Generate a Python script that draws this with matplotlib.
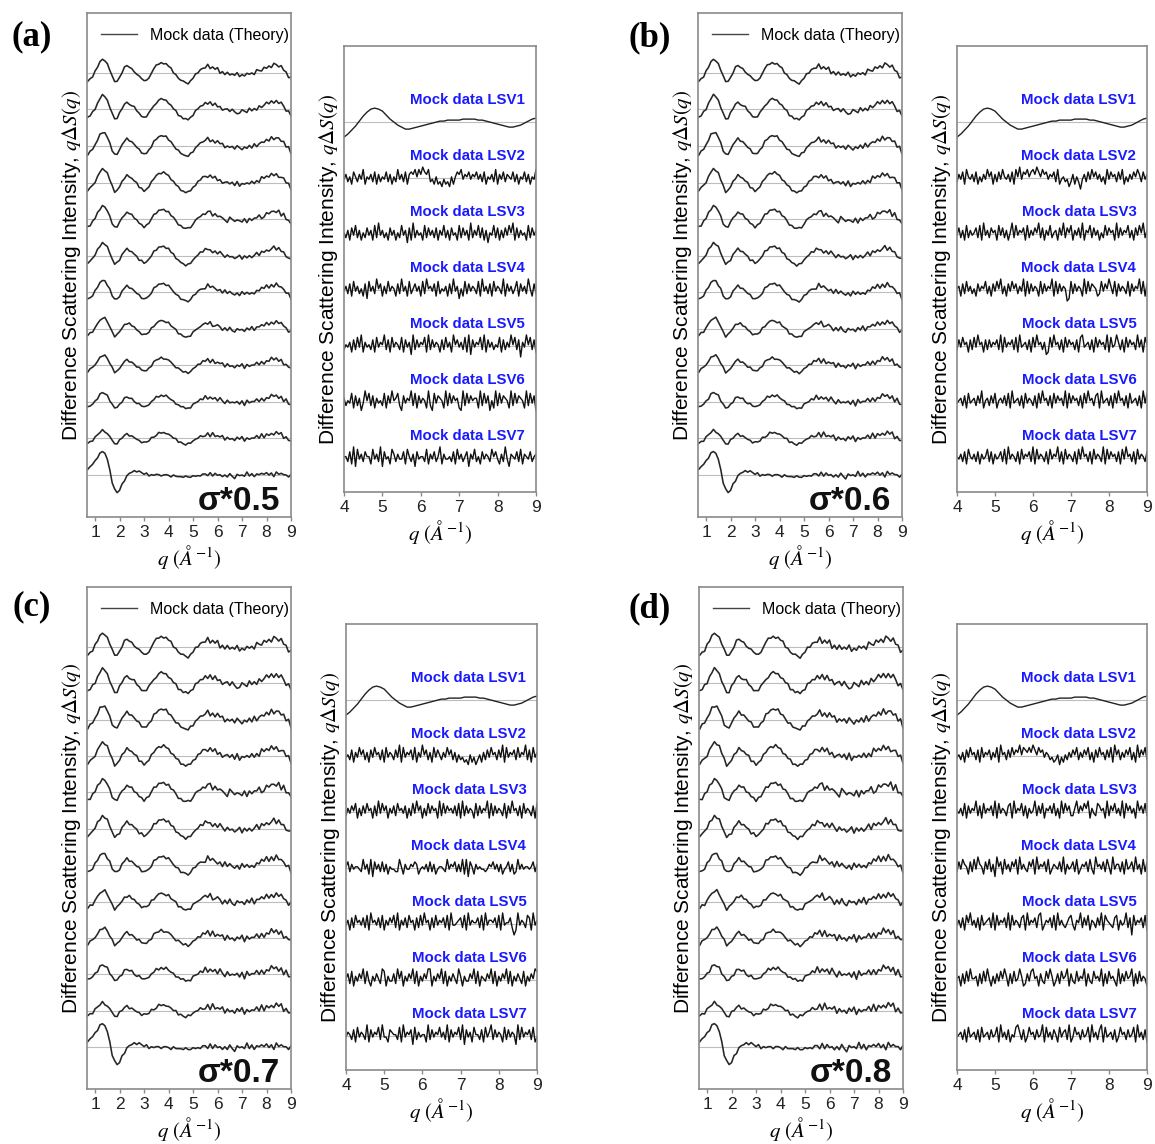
import numpy as np
import matplotlib.pyplot as plt
from matplotlib.lines import Line2D

plt.rcParams['font.family'] = ['Liberation Sans', 'DejaVu Sans']
plt.rcParams['mathtext.fontset'] = 'stix'

panel_tags = ['(a)', '(b)', '(c)', '(d)']
sigma_factor = [0.5, 0.6, 0.7, 0.8]
sigma_labels = ['σ*0.5', 'σ*0.6', 'σ*0.7', 'σ*0.8']
lsv_names = ['Mock data LSV%d' % (i + 1) for i in range(7)]

# ---- left stacks: q grid (0.1 steps) and the theory curve, values in px of the picture
q_left = np.round(np.arange(0.7, 9.05, 0.1), 1)
theory_upper = [-8, -6, -3, 1,
                6, 11, 14, 13, 9, 3, -4, -9, -8, -4,
                1, 5, 7, 6, 4, 2, -1, -4, -6, -8,
                -7, -4, 0, 4, 7, 9, 10, 10, 9, 7,
                4, 1, -2, -5, -7, -9, -10, -10, -8, -5,
                -2, 1, 3, 5, 6, 7, 6, 5, 4, 3,
                2, 1, 0, -1, -1, -2, -2, -2, -2, -2,
                -2, -2, -1, -1, 0, 1, 2, 3, 4, 5,
                6, 7, 8, 8, 7, 5, 3, 0, -3, -6]
theory_bottom = [6, 8, 11, 14,
                 18, 21, 23, 22, 16, 5, -7, -15, -18, -15,
                 -10, -5, -1, 2, 3, 4, 4, 3, 2, 1,
                 1, 0, 0, 0, 1, 0, 0, -1, 0, 0,
                 -1, -1, -1, -2, -2, -2, -2, -1, -2, -1,
                 -1, -1, 0, 0, 0, 1, 0, 0, 0, 0,
                 0, 0, -1, -1, -1, -1, -2, -1, -1, -1,
                 -1, 0, 0, -1, 0, 0, 0, 0, 1, 0,
                 1, 1, 0, 0, 1, 0, 0, -1, -1, -2]
row_amp = [1.0, 1.0, 1.0, 0.98, 0.95, 0.92, 0.86, 0.8, 0.72, 0.64, 0.56]

# fine jitter on each row, one digit per q point (4.5 = zero)
left_noise = [
    "4536 4543 5465 4436 5453 4655 4345 6453 5463 5446 5354 6354 3726 4815 2736 4825 3746 2853 7462 7538 4627 3584 6273 5482",
    "5463 5464 5354 3645 5346 4535 4654 3564 5354 6354 6453 6453 6273 8462 5738 4127 5384 6273 5847 2638 5274 6382 5746 3825",
    "3645 4635 4536 4554 6354 4635 4536 4554 6354 3645 5463 5453 4726 3857 2647 3852 6473 8256 4738 2564 7382 6547 3829 5647",
    "4653 5453 6463 5453 6454 6353 5464 5536 4535 4635 4645 3546 5274 8362 5748 3926 5748 3629 5748 3625 7483 9265 7483 9265",
    "5364 6354 4536 4653 5463 5453 6456 3545 3646 5354 5634 6545 3682 7465 3197 4653 8274 6581 2746 5382 9476 5382 7465 9382",
    "4554 6353 6454 6354 6354 5364 5546 3545 3646 3545 3645 5463 7452 6385 2746 3582 7463 5827 4635 8274 6358 2746 3528 7463",
    "5436 4545 3646 5354 6354 4635 5436 4545 3654 4635 5346 4553 2847 5362 8475 3628 4735 2648 5937 2846 5372 8463 5728 4365",
    "4635 5436 4453 6545 3645 4536 5463 4554 3645 6354 4536 5445 6382 4751 6384 2756 3849 2657 4836 2748 5639 2748 5362 8475",
    "3654 4536 5463 5445 6354 3645 4536 5463 4554 3654 6345 4536 4728 3657 2846 3759 2846 5837 2649 4738 2657 4839 2657 3846",
    "5445 3654 6354 4536 5463 3645 5454 6353 6445 3546 4536 5463 8264 7395 2846 5738 1946 5837 2649 5738 2946 5837 2649 5738",
    "4536 5463 4554 3645 6354 4536 5463 3645 4554 6354 3645 5463 3729 4658 2746 3859 2746 5839 2746 3859 2746 5839 2746 3859",
    "4545 3654 4536 5463 5445 3654 6354 4536 5436 4554 6345 4536 6283 7452 6384 2756 4938 2657 4836 2947 5638 2746 5382 7465",
]

# ---- right stacks: LSV1 (smooth) and LSV2-7 (noise), px of the picture
q_lsv1 = np.round(np.arange(4.0, 9.01, 0.1), 1)
lsv1 = [-15, -12, -8, -4, 1, 6, 10, 13, 14, 13,
        11, 7, 3, 0, -3, -5, -7, -7, -6, -5,
        -4, -3, -2, -1, 0, 1, 1, 2, 2, 2,
        2, 3, 3, 3, 3, 2, 2, 1, 0, -1,
        -2, -3, -4, -5, -5, -4, -3, -1, 1, 3,
        4]
q_lsv = np.round(np.arange(4.0, 9.001, 0.05), 2)
lsv_noise = [
    [  # (a)
        "4635 2753 6482 5463 7263 5473 6253 8463 7267 6858 6976 8342 5231 4231 5257 6846 5746 5746 3725 4638 2647 3654 7362 5473 6254 8374",
        "5362 7483 6253 7462 8394 6352 7462 5384 6172 9364 5283 7463 7264 8362 7452 8374 6293 6483 7261 5483 7263 7485 9273 6452 8374 6527",
        "4637 2846 3527 1846 3957 2638 4652 7394 6283 5746 2839 5647 2835 4627 3946 1528 3746 5382 9463 7284 6539 2746 3582 7463 9527 3845",
        "3546 2738 4926 4537 2846 5937 2846 5382 7461 9374 6582 9374 6527 3846 2957 4638 2917 4658 3927 4635 4827 3649 5837 0649 5837 2645",
        "6354 8273 6149 5837 2645 3827 4956 8317 4659 3827 4652 9318 4765 2938 4756 2193 8475 6629 3847 1529 3847 6529 3847 6529 3847 1526",
        "5537 2918 4637 5528 4639 1745 2863 6447 2853 6174 5538 2647 3592 6445 3728 4635 7164 8352 7465 3857 4263 9416 5473 8265 4735 6284",
    ],
    [  # (b)
        "3647 2854 6372 5364 8572 6374 8546 3728 5947 6857 8697 5867 4657 3824 5341 3625 3046 3748 5746 3528 4756 3748 2536 4758 6374 6254",
        "4736 2836 4573 8294 6375 6284 7362 5938 4657 2836 4759 3726 4835 6274 9375 8264 7392 6583 7462 5384 7562 9374 6583 6274 8593 6425",
        "5627 3846 3527 4658 3627 4859 3627 4857 3649 2837 4652 8374 6592 8374 6501 8374 6529 3847 6523 8475 9638 2746 5382 7465 9382 7463",
        "3748 5627 3849 5627 3746 5739 2846 5738 2945 6372 8495 6361 2849 5637 2847 5637 2894 5637 2847 5639 2845 9637 2847 5639 4728 5634",
        "4563 7284 5637 4925 6374 8256 4738 2945 6372 8465 3728 4956 3728 4756 3928 4756 3728 4956 3782 9456 3728 4956 3728 4563 7294 8565",
        "5463 7285 4637 2645 8372 6457 3829 4653 7284 6573 9284 6537 2846 5937 2846 5372 8495 6372 8465 3928 4756 3728 4956 3728 4653 7285",
    ],
    [  # (c)
        "4537 2648 5736 2748 5637 2846 5374 9284 6573 8264 9573 6284 7536 4857 3625 3423 1524 1352 6374 8563 7492 8465 7384 6593 7284 6575",
        "3647 5826 3748 5627 3948 5726 4738 5647 2638 4957 2638 4756 2938 4756 4738 2937 4652 8374 6592 8374 6538 2749 5637 2846 5372 8497",
        "5736 4554 3846 2817 4637 3625 4433 8526 4465 7624 5463 7362 4554 3846 5736 3828 1752 6454 4346 5746 3624 5736 2384 6455 4573 6526",
        "4627 3856 4738 2956 4738 2647 5839 2647 3856 2738 4956 2738 4657 3829 4456 7382 9465 5738 2946 6573 8294 5573 0294 6538 7294 6538",
        "5738 2647 5938 4264 7539 8264 4739 5826 4759 3826 4759 9264 7593 8264 7539 6264 4759 3826 5475 9382 6475 9382 6475 3826 4759 8382",
        "4653 7284 6539 2746 5839 4427 6553 8294 6571 8364 5529 3746 5846 3927 4658 3917 4628 5537 2846 9374 6528 3746 5193 8465 7382 4657",
    ],
    [  # (d)
        "4536 2748 5637 2846 5736 4829 5637 4857 6958 7686 9758 6746 5342 3514 2536 4758 3647 5836 2748 5637 4829 5736 4758 3629 4758 3647",
        "5463 8274 6593 7284 6573 9284 6537 8294 6583 7264 5937 4826 5748 3629 4857 3369 4758 6926 4387 5629 3758 4639 2857 4629 5748 3629",
        "3748 6527 3849 6527 4836 1957 2846 3758 2946 4375 8294 6573 8246 5473 9264 5738 2465 7384 2956 4738 5294 6637 2845 7394 6283 7415",
        "4637 2859 4637 2845 6739 2846 5739 2846 5378 2946 5738 9246 5738 2946 4357 8426 5937 4826 5374 9286 5437 8264 5937 0846 5738 2946",
        "5627 3849 5562 7384 9526 3748 5962 7384 5962 3748 9562 7438 5962 4738 5692 7438 4659 2743 8564 9273 8564 2937 4856 9273 8465 2937",
        "4563 7284 5637 2845 6374 5829 4637 2548 9637 2485 6374 5928 4637 5284 6739 2485 6374 5829 4637 9284 5637 2485 6374 5829 4637 2845",
    ],
]


def decode(s, n):
    s = s.replace(' ', '')
    s = (s + '45' * n)[:n]
    return (np.array([int(c) for c in s]) - 4.5) / 4.5


W, H = 1155, 1144
fig = plt.figure(figsize=(W / 100, H / 100), dpi=100)


def add_axes_px(x0, y0, x1, y1):
    return fig.add_axes([x0 / W, 1 - y1 / H, (x1 - x0) / W, (y1 - y0) / H])


left_boxes = [(87, 13, 291, 517), (698, 13, 902, 517), (87, 587, 291, 1089), (699, 587, 903, 1089)]
right_boxes = [(344, 46, 536, 492), (957, 46, 1147, 492), (346, 624, 537, 1070), (957, 624, 1147, 1070)]
tag_pos = [(32, 37), (650, 38), (32, 607), (650, 609)]

row_px = 36.5     # spacing of the left stack rows
lsv_px = 56.0     # spacing of the LSV rows
spine_col = '#8a8a8a'
ylab = r'Difference Scattering Intensity, $q\Delta S(q)$'
xlab = r'$q\ (Å^{-1})$'


def style(ax):
    for sp in ax.spines.values():
        sp.set_color(spine_col)
        sp.set_linewidth(1.2)
    ax.set_yticks([])
    ax.tick_params(axis='x', direction='out', length=3, width=1, color=spine_col,
                   labelsize=12.5, labelcolor='#222222', pad=3)
    ax.set_ylabel(ylab, fontsize=15, labelpad=3)
    ax.set_xlabel(xlab, fontsize=15, labelpad=2)


for k in range(4):
    # left: 11 theory rows + bottom row
    axL = add_axes_px(*left_boxes[k])
    for i in range(12):
        if i < 11:
            y = np.array(theory_upper, float) * row_amp[i]
        else:
            y = np.array(theory_bottom, float)
        y = y + 6 * sigma_factor[k] * decode(left_noise[i], len(q_left))
        axL.axhline(-i, color='#bdbdbd', lw=0.8, zorder=1)
        axL.plot(q_left, -i + y / row_px, color='#262626', lw=1.15, zorder=2)
    axL.set_xlim(0.67, 9.0)
    axL.set_ylim(-12.15, 1.64)
    axL.set_xticks(range(1, 10))
    style(axL)
    axL.legend(handles=[Line2D([], [], color='#444444', lw=1.0)], labels=['Mock data (Theory)'],
               loc='upper right', bbox_to_anchor=(1.03, 0.986), frameon=False, fontsize=11.5,
               handlelength=2.3, handletextpad=0.8, borderpad=0.5, borderaxespad=0)
    axL.text(0.945, 0.014, sigma_labels[k], transform=axL.transAxes, ha='right', va='baseline',
             fontsize=24, fontweight='bold', color='#111111')

    # right: LSV components
    axR = add_axes_px(*right_boxes[k])
    for j in range(7):
        axR.axhline(-j, color='#bdbdbd', lw=0.8, zorder=1)
        if j == 0:
            axR.plot(q_lsv1, -j + np.array(lsv1, float) / lsv_px, color='#222222', lw=1.0, zorder=2)
        else:
            y = 11 * decode(lsv_noise[k][j - 1], len(q_lsv))
            axR.plot(q_lsv, -j + y / lsv_px, color='#111111', lw=1.0, zorder=2)
        axR.text(8.72, -j + 0.39, lsv_names[j], ha='right', va='center', color='#1a1aff',
                 fontsize=10.8, fontweight='bold', zorder=1.5)
    axR.set_xlim(4, 9)
    axR.set_ylim(-6.61, 1.36)
    axR.set_xticks(range(4, 10))
    style(axR)

    tx, ty = tag_pos[k]
    fig.text(tx / W, 1 - ty / H, panel_tags[k], ha='center', va='center',
             fontsize=25, fontweight='bold', family='Liberation Serif')

fig.savefig('out.png', dpi=100)
